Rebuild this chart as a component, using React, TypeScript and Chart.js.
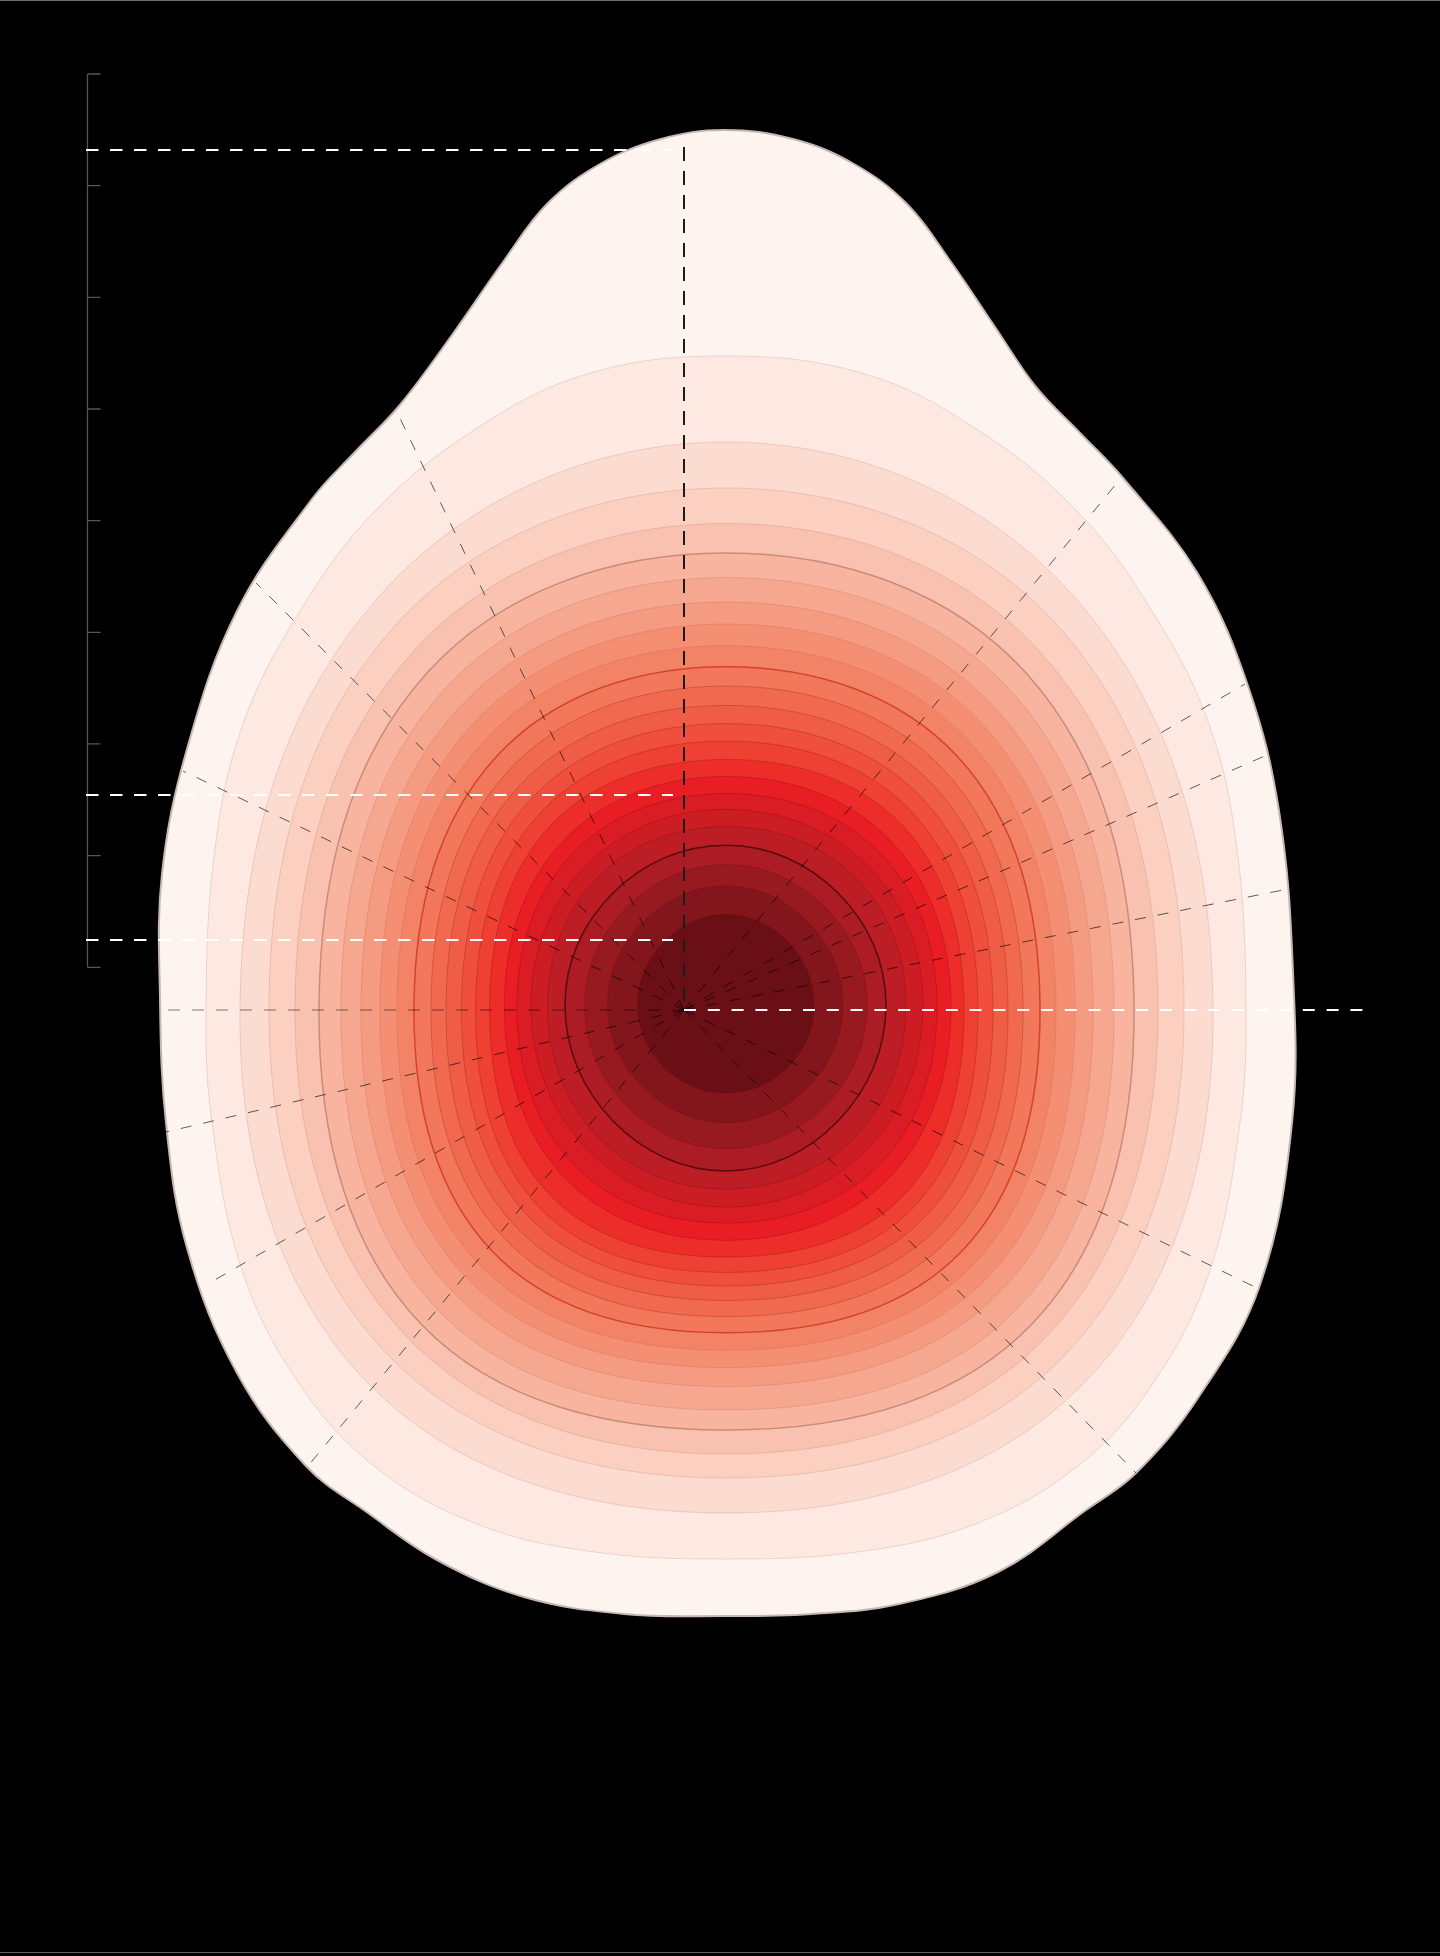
import React, { useEffect, useRef } from 'react';
import { Chart, registerables } from 'chart.js';

Chart.register(...registerables);

// ---------- scale ranges (data units) ----------
const X_MIN = -6.84;
const X_MAX = 7.56;
const Y_MIN = -9.46;
const Y_MAX = 10.1;
const AXIS_MIN = -8.8545;
const AXIS_MAX = 8.6627;

// ---------- left reference axis ----------
const axisLineX = -5.975;
const axisTicks = [0, 1, 2, 3, 4, 5, 6, 7, 8];

// ---------- density contours (outermost first), points clockwise from the top ----------
const contour00 = [
  [0.4, 8.8], [1.09, 8.71], [1.7, 8.46], [2.23, 8.06], [2.67, 7.48], [3.11, 6.83], [3.52, 6.23],
  [3.96, 5.77], [4.39, 5.32], [5.14, 4.36], [5.64, 3.24], [5.95, 1.99], [6.09, 0.37], [6.08, -1.13],
  [5.76, -2.75], [5.14, -3.88], [4.52, -4.63], [4.02, -5.0], [3.14, -5.62], [2.15, -5.94],
  [1.27, -6.04], [0.4, -6.06], [-0.6, -6.04], [-1.6, -5.87], [-2.47, -5.5], [-3.16, -5.03],
  [-3.78, -4.56], [-4.47, -3.63], [-4.97, -2.38], [-5.18, -1.13], [-5.24, 0.12], [-5.22, 1.36],
  [-4.97, 2.61], [-4.47, 3.99], [-3.72, 5.11], [-3.29, 5.58], [-2.85, 6.04], [-2.32, 6.75],
  [-1.81, 7.48], [-1.37, 8.06], [-0.84, 8.46], [-0.23, 8.71],
];
const contour01 = [
  [0.4, 6.54], [1.81, 6.36], [2.94, 5.8], [3.94, 4.98], [4.68, 3.99], [5.25, 2.86], [5.53, 1.61],
  [5.62, 0.05], [5.56, -1.13], [5.25, -2.63], [4.68, -3.75], [3.94, -4.56], [2.94, -5.13],
  [1.81, -5.41], [0.42, -5.49], [-0.97, -5.41], [-2.1, -5.13], [-3.1, -4.56], [-3.84, -3.75],
  [-4.41, -2.63], [-4.72, -1.13], [-4.78, 0.05], [-4.69, 1.61], [-4.41, 2.86], [-3.84, 3.99],
  [-3.1, 4.98], [-2.1, 5.8], [-0.97, 6.36],
];
const contour02 = [[0.42, 5.68], [3.93, 4.1], [5.29, 0.05], [4.02, -3.71], [0.42, -5.03], [-3.18, -3.71], [-4.44, 0.05], [-3.08, 4.1]];
const contour03 = [[0.42, 5.22], [3.76, 3.82], [5.0, 0.05], [3.81, -3.45], [0.42, -4.68], [-2.96, -3.45], [-4.15, 0.05], [-2.91, 3.82]];
const contour04 = [[0.42, 4.865], [3.57, 3.57], [4.74, 0.05], [3.62, -3.27], [0.42, -4.44], [-2.77, -3.27], [-3.89, 0.05], [-2.72, 3.57]];
const contour05 = [[0.42, 4.57], [3.42, 3.37], [4.5, 0.05], [3.48, -3.14], [0.42, -4.2], [-2.63, -3.14], [-3.65, 0.05], [-2.57, 3.37]];
const contour06 = [[0.42, 4.325], [3.27, 3.19], [4.3, 0.05], [3.33, -2.99], [0.42, -4.0], [-2.47, -2.99], [-3.43, 0.05], [-2.41, 3.19]];
const contour07 = [[0.42, 4.08], [3.12, 3.01], [4.09, 0.05], [3.17, -2.81], [0.42, -3.765], [-2.32, -2.81], [-3.23, 0.05], [-2.26, 3.01]];
const contour08 = [[0.42, 3.86], [2.99, 2.85], [3.91, 0.05], [3.04, -2.67], [0.42, -3.576], [-2.18, -2.67], [-3.04, 0.05], [-2.12, 2.85]];
const contour09 = [[0.42, 3.643], [2.85, 2.69], [3.72, 0.05], [2.9, -2.54], [0.42, -3.403], [-2.05, -2.54], [-2.87, 0.05], [-2.0, 2.69]];
const contour10 = [[0.42, 3.433], [2.73, 2.54], [3.56, 0.05], [2.78, -2.41], [0.42, -3.227], [-1.92, -2.41], [-2.7, 0.05], [-1.87, 2.54]];
const contour11 = [[0.42, 3.24], [2.6, 2.4], [3.39, 0.05], [2.65, -2.29], [0.42, -3.066], [-1.79, -2.29], [-2.53, 0.05], [-1.75, 2.4]];
const contour12 = [[0.42, 3.046], [2.49, 2.25], [3.24, 0.05], [2.54, -2.17], [0.42, -2.905], [-1.68, -2.17], [-2.38, 0.05], [-1.64, 2.25]];
const contour13 = [[0.42, 2.864], [2.38, 2.12], [3.09, 0.05], [2.42, -2.06], [0.42, -2.76], [-1.56, -2.06], [-2.225, 0.05], [-1.52, 2.12]];
const contour14 = [[0.42, 2.69], [2.27, 1.99], [2.94, 0.05], [2.31, -1.96], [0.42, -2.624], [-1.46, -1.96], [-2.084, 0.05], [-1.42, 1.99]];
const contour15 = [[0.42, 2.506], [2.17, 1.86], [2.8, 0.05], [2.21, -1.84], [0.42, -2.471], [-1.35, -1.84], [-1.944, 0.05], [-1.32, 1.86]];
const contour16 = [[0.42, 2.336], [2.05, 1.71], [2.67, 0.05], [2.06, -1.67], [0.42, -2.303], [-1.2, -1.67], [-1.796, 0.05], [-1.19, 1.71]];
const contour17 = [[0.42, 2.165], [1.95, 1.58], [2.53, 0.05], [1.96, -1.54], [0.42, -2.13], [-1.11, -1.54], [-1.67, 0.05], [-1.1, 1.58]];
const contour18 = [[0.42, 2.006], [1.83, 1.45], [2.39, 0.05], [1.83, -1.39], [0.42, -1.97], [-0.97, -1.39], [-1.53, 0.05], [-0.97, 1.45]];
const contour19 = [[0.42, 1.835], [1.71, 1.33], [2.22, 0.05], [1.71, -1.27], [0.42, -1.79], [-0.86, -1.27], [-1.363, 0.05], [-0.86, 1.33]];
const contour20 = [[0.42, 1.648], [1.54, 1.17], [2.02, 0.05], [1.54, -1.11], [0.42, -1.61], [-0.71, -1.11], [-1.19, 0.05], [-0.71, 1.17]];
const contour21 = [[0.42, 1.455], [1.41, 1.03], [1.83, 0.05], [1.41, -0.96], [0.42, -1.387], [-0.57, -0.96], [-0.993, 0.05], [-0.57, 1.03]];
const contour22 = [[0.42, 1.24], [1.24, 0.88], [1.59, 0.05], [1.24, -0.77], [0.42, -1.125], [-0.41, -0.77], [-0.764, 0.05], [-0.41, 0.88]];
const contour23 = [[0.42, 0.955], [1.04, 0.68], [1.3, 0.05], [1.04, -0.57], [0.42, -0.83], [-0.2, -0.57], [-0.464, 0.05], [-0.2, 0.68]];

const contourLevels = [
  contour00, contour01, contour02, contour03, contour04, contour05, contour06, contour07,
  contour08, contour09, contour10, contour11, contour12, contour13, contour14, contour15,
  contour16, contour17, contour18, contour19, contour20, contour21, contour22, contour23,
];

// ---------- guide rays from the origin (end points) ----------
const rayEndX = [-2.87, -4.28, -5.01, -5.18, -4.78, -3.76, 4.52, 5.73, 6.04, 5.83, 5.61, 4.37];
const rayEndY = [5.98, 4.27, 2.39, -1.22, -2.75, -4.56, -4.63, -2.78, 1.21, 2.55, 3.26, 5.32];
const baselineLeftEnd = -5.25;
const baselineRightEnd = 6.87;
const verticalGuideTop = 8.63;

// ---------- horizontal reference lines on the left ----------
const refLineY = [8.6, 2.15, 0.7];
const refLineStart = -5.98;
const refLineEnd = -0.11;

// ---------- styles ----------
const levelFill = [
  '#fef4ef', '#fde9e1', '#fcdcd1', '#fbd0c1', '#f9c2b0', '#f8b49f', '#f6a78f', '#f59b81',
  '#f48f74', '#f38367', '#f2775b', '#f16a50', '#f05d46', '#ef4f3c', '#ee4033', '#ec2d29',
  '#e91d24', '#da1c24', '#cc1d25', '#bd1d25', '#ac1c24', '#981a21', '#83161c', '#6a0f15',
];
const strokeFor = (i: number) => {
  if (i === 0) return { c: '#c7b7b3', w: 2 };
  if (i === 5) return { c: '#c98b7b', w: 1.5 };
  if (i === 10) return { c: '#d4432b', w: 1.5 };
  if (i === 20) return { c: '#5a0b0f', w: 1.5 };
  if (i < 10) return { c: 'rgba(150,60,40,0.16)', w: 1 };
  return { c: 'rgba(90,0,0,0.22)', w: 1 };
};

const closeLoops = {
  id: 'closeLoops',
  afterDatasetUpdate(chart: any, args: any) {
    const ds = chart.data.datasets[args.index];
    if (ds && ds.closedShape && args.meta.dataset) {
      args.meta.dataset._loop = true;
      args.meta.dataset._fullLoop = true;
    }
  },
};

const leftAxis = {
  id: 'leftAxis',
  beforeDatasetsDraw(chart: any) {
    const { ctx, scales } = chart;
    const x = Math.round(scales.x.getPixelForValue(axisLineX)) + 0.5;
    const yTop = scales.axisY.getPixelForValue(axisTicks[axisTicks.length - 1]);
    const yBot = scales.axisY.getPixelForValue(axisTicks[0]);
    ctx.save();
    ctx.strokeStyle = '#555555';
    ctx.lineWidth = 1.3;
    ctx.beginPath();
    ctx.moveTo(x, yTop);
    ctx.lineTo(x, yBot);
    for (const t of axisTicks) {
      const y = scales.axisY.getPixelForValue(t);
      ctx.moveTo(x, y);
      ctx.lineTo(x + 13, y);
    }
    ctx.stroke();
    ctx.restore();
  },
};

export default function App() {
  const ref = useRef<HTMLCanvasElement | null>(null);

  useEffect(() => {
    document.body.style.margin = '0';
    document.body.style.background = '#000';
    const canvas = ref.current;
    if (!canvas) return;

    const lineBase = { type: 'line', fill: false, pointRadius: 0, tension: 0, borderCapStyle: 'butt' };

    const rays = rayEndX.map((x, i) => ({
      ...lineBase,
      data: [{ x: 0, y: 0 }, { x, y: rayEndY[i] }],
      borderColor: 'rgba(0,0,0,0.62)',
      borderWidth: 1,
      borderDash: [11, 12],
    }));

    const refLines = refLineY.map((y) => ({
      ...lineBase,
      data: [{ x: refLineStart, y }, { x: refLineEnd, y }],
      borderColor: '#ffffff',
      borderWidth: 2,
      borderDash: [12.5, 11.5],
    }));

    const guides = [
      {
        ...lineBase,
        data: [{ x: 0, y: verticalGuideTop }, { x: 0, y: 0 }],
        borderColor: '#1c1c1c',
        borderWidth: 2,
        borderDash: [14, 10],
      },
      {
        ...lineBase,
        data: [{ x: 0, y: 0 }, { x: baselineRightEnd, y: 0 }],
        borderColor: '#ffffff',
        borderWidth: 2,
        borderDash: [12, 11.8],
      },
      {
        ...lineBase,
        data: [{ x: 0, y: 0 }, { x: baselineLeftEnd, y: 0 }],
        borderColor: 'rgba(0,0,0,0.25)',
        borderWidth: 2,
        borderDash: [12, 12],
      },
    ];

    const contours = contourLevels
      .map((pts, i) => {
        const s = strokeFor(i);
        return {
          type: 'line',
          closedShape: true,
          data: pts.map(([x, y]) => ({ x, y })),
          fill: 'shape',
          backgroundColor: levelFill[i],
          borderColor: s.c,
          borderWidth: s.w,
          tension: 0.38,
          pointRadius: 0,
        };
      })
      .reverse();

    const chart = new Chart(canvas, {
      type: 'line',
      data: { datasets: [...guides, ...refLines, ...rays, ...contours] as any },
      options: {
        responsive: false,
        animation: false,
        devicePixelRatio: 1,
        events: [],
        layout: { padding: 0 },
        plugins: { legend: { display: false }, tooltip: { enabled: false } },
        scales: {
          x: { type: 'linear', min: X_MIN, max: X_MAX, display: false },
          y: { type: 'linear', min: Y_MIN, max: Y_MAX, display: false },
          axisY: { type: 'linear', axis: 'y', min: AXIS_MIN, max: AXIS_MAX, display: false },
        },
      } as any,
      plugins: [closeLoops, leftAxis],
    });
    return () => chart.destroy();
  }, []);

  return (
    <div style={{ position: 'relative', width: 1440, height: 1956, background: '#000', overflow: 'hidden' }}>
      <canvas ref={ref} width={1440} height={1956} style={{ display: 'block', width: 1440, height: 1956 }} />
      <div style={{ position: 'absolute', left: 0, top: 0, width: 1440, height: 1, background: '#6e6e6e' }} />
      <div style={{ position: 'absolute', left: 0, top: 1952, width: 1440, height: 1, background: '#5e5e5e' }} />
    </div>
  );
}
